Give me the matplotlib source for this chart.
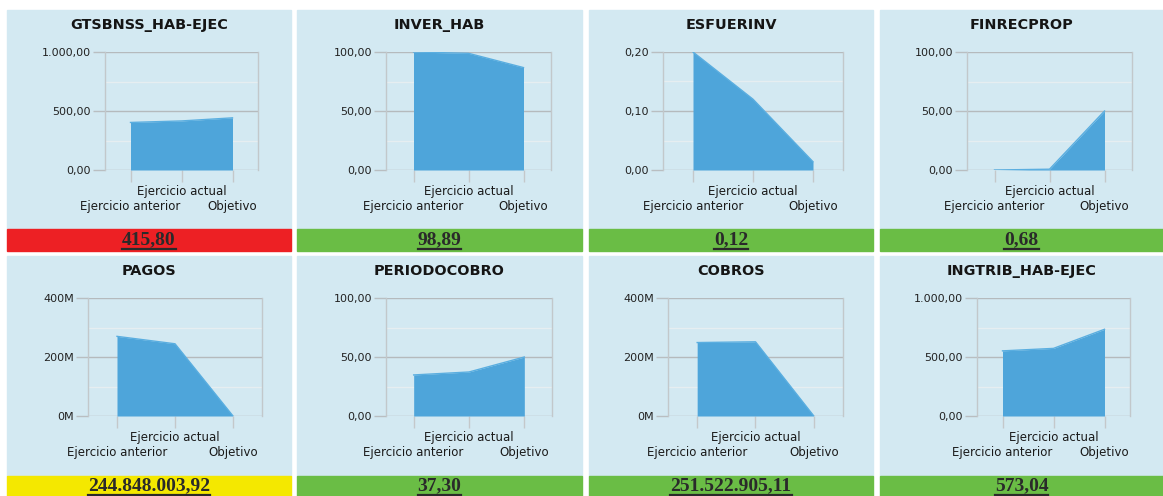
import matplotlib
matplotlib.use('Agg')
import matplotlib.pyplot as plt
from matplotlib.patches import Rectangle
from matplotlib.lines import Line2D

# Datos de los indicadores
titulos = ['GTSBNSS_HAB-EJEC', 'INVER_HAB', 'ESFUERINV', 'FINRECPROP',
           'PAGOS', 'PERIODOCOBRO', 'COBROS', 'INGTRIB_HAB-EJEC']
categorias = ['Ejercicio anterior', 'Ejercicio actual', 'Objetivo']
anterior = [403, 100, 0.20, 0, 270e6, 34.8, 249e6, 552]
actual = [415.80, 98.89, 0.12, 0.68, 244848003.92, 37.30, 251522905.11, 573.04]
objetivo = [442, 86.8, 0.014, 50, 0, 50, 0, 735]
valores_txt = ['415,80', '98,89', '0,12', '0,68',
               '244.848.003,92', '37,30', '251.522.905,11', '573,04']
ymax = [1000, 100, 0.2, 100, 400e6, 100, 400e6, 1000]
ytick_labels = [['0,00', '500,00', '1.000,00'],
                ['0,00', '50,00', '100,00'],
                ['0,00', '0,10', '0,20'],
                ['0,00', '50,00', '100,00'],
                ['0M', '200M', '400M'],
                ['0,00', '50,00', '100,00'],
                ['0M', '200M', '400M'],
                ['0,00', '500,00', '1.000,00']]
colores_estado = ['#ed2024', '#6abd45', '#6abd45', '#6abd45',
                  '#f4e800', '#6abd45', '#6abd45', '#6abd45']

W, H = 1163, 496
fig = plt.figure(figsize=(W / 100, H / 100), dpi=100)
fig.patch.set_facecolor('white')

# Layout en pixeles
panel_x = [(7, 291), (297, 582), (589, 873), (880, 1163)]
panel_y = [(10, 229, 251), (256, 476, 496)]   # top fondo, top barra, bottom
ax_lr = [[(105, 258), (386, 551), (663, 843), (967, 1132)],
         [(88, 262), (386, 552), (668, 843), (977, 1130)]]
ax_tb = [(52, 170), (298, 416)]

fondo = '#d3e9f2'
relleno = '#4ea5da'


def fx(px):
    return px / W


def fy(py):
    return 1 - py / H


valor_textos = []
for k in range(8):
    r, c = divmod(k, 4)
    x0, x1 = panel_x[c]
    yt, yb, ye = panel_y[r]
    fig.patches.append(Rectangle((fx(x0), fy(yb)), fx(x1 - x0), (yb - yt) / H,
                                 transform=fig.transFigure, color=fondo, zorder=-5))
    fig.patches.append(Rectangle((fx(x0), fy(ye)), fx(x1 - x0), (ye - yb) / H,
                                 transform=fig.transFigure, color=colores_estado[k], zorder=-5))
    fig.text(fx((x0 + x1) / 2), fy(yt + 15), titulos[k], ha='center', va='center',
             fontsize=10.4, fontweight='bold', color='#151515')
    t = fig.text(fx((x0 + x1) / 2), fy((yb + ye) / 2 - 0.5), valores_txt[k],
                 ha='center', va='center', fontsize=14, fontweight='bold',
                 family='Liberation Serif', color='#2a2a2a')
    valor_textos.append((t, ye))

    l, rr = ax_lr[r][c]
    top, bot = ax_tb[r]
    ax = fig.add_axes([fx(l), fy(bot), fx(rr - l), (bot - top) / H])
    ax.set_zorder(2)
    ax.set_facecolor('none')
    vals = [anterior[k], actual[k], objetivo[k]]
    xs = [0, 1, 2]
    ax.fill_between(xs, vals, 0, color=relleno, lw=0, zorder=3)
    ax.plot(xs, vals, color='#5aaee0', lw=1, zorder=3)
    ax.set_xlim(-0.5, 2.5)
    ax.set_ylim(0, ymax[k])
    ax.set_yticks([0, ymax[k] / 2, ymax[k]])
    ax.set_yticklabels(ytick_labels[k])
    ax.set_yticks([ymax[k] / 4, ymax[k] * 3 / 4], minor=True)
    ax.set_xticks(xs)
    ax.set_xticklabels([])
    ax.tick_params(axis='y', which='major', length=8.5, width=1, color='#b9bec1',
                   labelsize=8, labelcolor='#222222', pad=1.5)
    ax.tick_params(axis='y', which='minor', length=0)
    ax.tick_params(axis='x', length=8.5, width=1, color='#c4c8ca')
    ax.grid(axis='y', which='major', color='#b5babd', lw=1, zorder=1)
    ax.grid(axis='y', which='minor', color='#e6eef1', lw=1, zorder=1)
    for s in ['top', 'bottom']:
        ax.spines[s].set_visible(False)
    for s in ['left', 'right']:
        ax.spines[s].set_color('#c2c8cb')
        ax.spines[s].set_linewidth(1)
    for i, cat in enumerate(categorias):
        dy = 15.8 if i == 1 else 26.6
        ax.annotate(cat, xy=(i, 0), xycoords=('data', 'axes fraction'),
                    xytext=(0, -dy), textcoords='offset points',
                    ha='center', va='center', fontsize=8.5, color='#1a1a1a',
                    annotation_clip=False)

# Subrayado de los valores
fig.canvas.draw()
rend = fig.canvas.get_renderer()
for t, ye in valor_textos:
    bb = t.get_window_extent(rend)
    yline = bb.y0 - 1
    fig.add_artist(Line2D([bb.x0 / W, bb.x1 / W], [yline / H, yline / H],
                          transform=fig.transFigure, color='#2a2a2a', lw=1.6))

fig.savefig('out.png', dpi=100, facecolor='white')
